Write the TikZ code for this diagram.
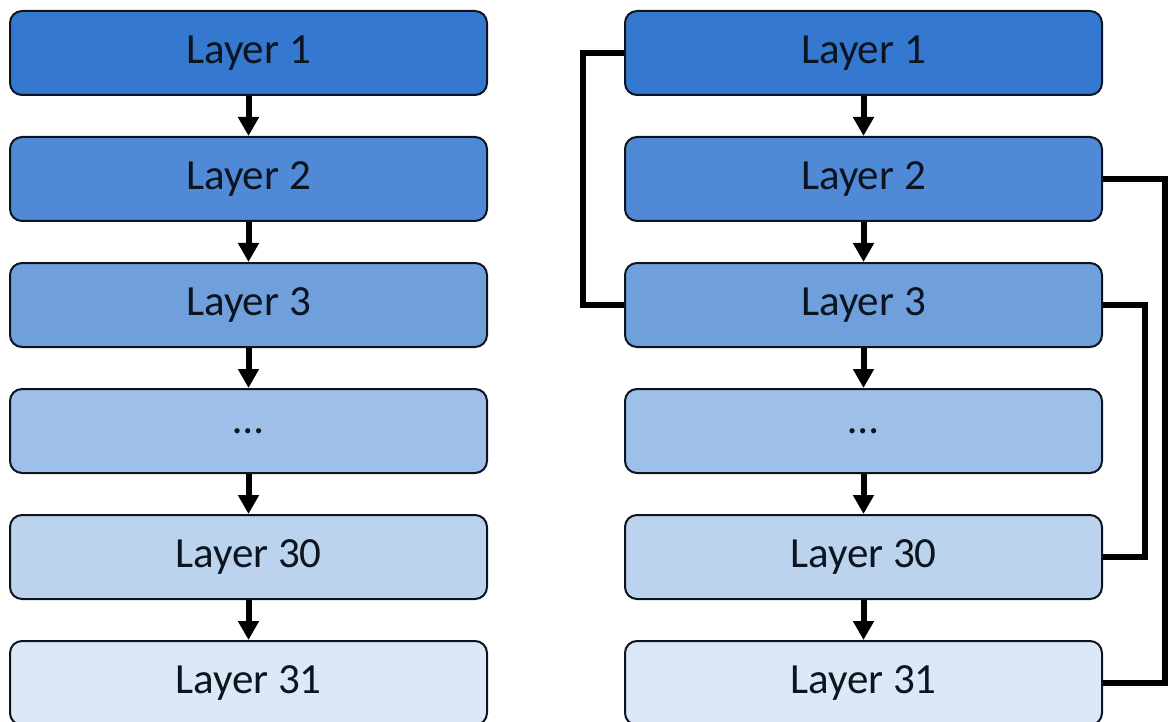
\documentclass[tikz,border=0pt]{standalone}
\usepackage{fontspec}
\setmainfont{Carlito}
\usepackage{tikz}
\definecolor{c1}{RGB}{52, 120, 207}
\definecolor{c2}{RGB}{80, 138, 214}
\definecolor{c3}{RGB}{112, 160, 220}
\definecolor{c4}{RGB}{158, 191, 232}
\definecolor{c5}{RGB}{188, 211, 238}
\definecolor{c6}{RGB}{221, 232, 246}
\definecolor{edge}{RGB}{12, 20, 32}
\usetikzlibrary{positioning}
\usetikzlibrary{arrows.meta}

\begin{document}
\begin{tikzpicture}[x=1pt, y=1pt,
layer/.style={rectangle, rounded corners=12pt, minimum width=477pt, minimum height=84pt, line width=2pt, draw=edge, text=edge, font=\fontsize{43}{48}\selectfont, inner sep=0pt},
flow/.style={line width=6pt, color=black, -{Triangle[width=20pt, length=19pt]}},
skip/.style={line width=6.5pt, color=black}]
\useasboundingbox (0pt, 0pt) rectangle (1170pt, -722pt);
\node (l1) [layer, fill=c1] at (248.5pt, -53pt) {Layer 1};
\node (l2) [layer, fill=c2] at (248.5pt, -179pt) {Layer 2};
\node (l3) [layer, fill=c3] at (248.5pt, -305pt) {Layer 3};
\node (l4) [layer, fill=c4] at (248.5pt, -431pt) {\dots};
\node (l5) [layer, fill=c5] at (248.5pt, -557pt) {Layer 30};
\node (l6) [layer, fill=c6] at (248.5pt, -683pt) {Layer 31};
\node (r1) [layer, fill=c1] at (863.5pt, -53pt) {Layer 1};
\node (r2) [layer, fill=c2] at (863.5pt, -179pt) {Layer 2};
\node (r3) [layer, fill=c3] at (863.5pt, -305pt) {Layer 3};
\node (r4) [layer, fill=c4] at (863.5pt, -431pt) {\dots};
\node (r5) [layer, fill=c5] at (863.5pt, -557pt) {Layer 30};
\node (r6) [layer, fill=c6] at (863.5pt, -683pt) {Layer 31};
\foreach \a/\b in {1/2, 2/3, 3/4, 4/5, 5/6} {
\draw [flow] (l\a) to (l\b);
\draw [flow] (r\a) to (r\b);
}
\draw [skip] (r1.west) -- ++(-41pt, 0) |- (r3.west);
\draw [skip] (r2.east) -- ++(62pt, 0) |- (r6.east);
\draw [skip] (r3.east) -- ++(42pt, 0) |- (r5.east);
\end{tikzpicture}
\end{document}
